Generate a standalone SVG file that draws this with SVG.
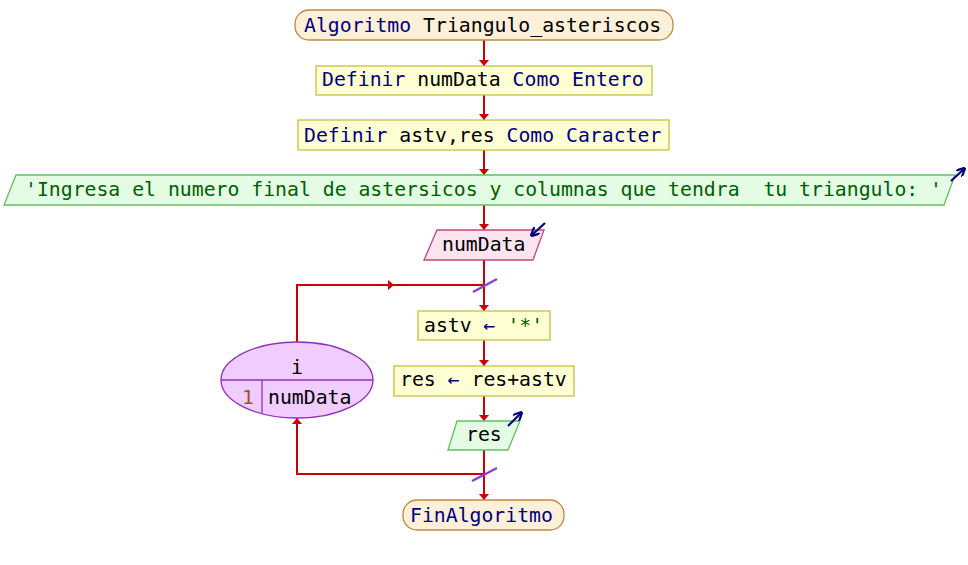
<svg xmlns="http://www.w3.org/2000/svg" width="968" height="565" viewBox="0 0 968 565">
  <defs>
    <marker id="ah" viewBox="0 0 6 10" refX="6" refY="5" markerWidth="6" markerHeight="10" markerUnits="userSpaceOnUse" orient="auto">
      <path d="M0,0 L6,5 L0,10 Z" fill="#cc0000"/>
    </marker>
    <marker id="io" viewBox="0 0 10 10" refX="8" refY="5" markerWidth="9" markerHeight="9" markerUnits="userSpaceOnUse" orient="auto">
      <path d="M0,0 L10,5 L0,10" fill="none" stroke="#000080" stroke-width="2.5"/>
    </marker>
  </defs>
  <style>
    text { font-family: "DejaVu Sans Mono", "Liberation Mono", monospace; font-size: 19.8px; fill: #000000; }
    .kw { fill: #000080; }
    .str { fill: #006000; }
    .num { fill: #a0522d; }
    .term { fill: #fdf0d8; stroke: #c08840; stroke-width: 1.3; }
    .proc { fill: #ffffd4; stroke: #c8c040; stroke-width: 1.3; }
    .out { fill: #e4fce4; stroke: #60c060; stroke-width: 1.3; }
    .inp { fill: #fce4ef; stroke: #c04880; stroke-width: 1.3; }
    .loop { fill: #f0ccff; stroke: #9030c0; stroke-width: 1.3; }
    .flow { fill: none; stroke: #cc0000; stroke-width: 2; }
    .cut { stroke: #9040d0; stroke-width: 2.5; }
    .ioarrow { stroke: #000080; stroke-width: 2.2; marker-end: url(#io); }
  </style>

  <!-- connectors -->
  <g id="connectors">
    <path class="flow" d="M484,40 V66" marker-end="url(#ah)"/>
    <path class="flow" d="M484,95 V120" marker-end="url(#ah)"/>
    <path class="flow" d="M484,150 V175" marker-end="url(#ah)"/>
    <path class="flow" d="M484,205 V230" marker-end="url(#ah)"/>
    <path class="flow" d="M484,260 V311" marker-end="url(#ah)"/>
    <path class="flow" d="M484,340 V366" marker-end="url(#ah)"/>
    <path class="flow" d="M484,396 V421" marker-end="url(#ah)"/>
    <path class="flow" d="M484,450 V500" marker-end="url(#ah)"/>
    <!-- loop return: ellipse top to loop entry -->
    <path class="flow" d="M297,342 V285 H394" marker-end="url(#ah)"/>
    <path class="flow" d="M390,285 H484"/>
    <!-- loop exit back to the counter -->
    <path class="flow" d="M484,474 H297 V418" marker-end="url(#ah)"/>
    <line class="cut" x1="473" y1="292" x2="497" y2="279"/>
    <line class="cut" x1="472" y1="481" x2="497" y2="468"/>
  </g>

  <g id="start">
    <rect class="term" x="295" y="10" width="378" height="30" rx="14"/>
    <text x="304" y="32"><tspan class="kw">Algoritmo</tspan> Triangulo_asteriscos</text>
  </g>

  <g id="def-numData">
    <rect class="proc" x="316" y="66" width="336" height="29"/>
    <text x="322" y="86"><tspan class="kw">Definir</tspan> numData <tspan class="kw">Como Entero</tspan></text>
  </g>

  <g id="def-astv-res">
    <rect class="proc" x="298" y="120" width="371" height="30"/>
    <text x="304" y="142"><tspan class="kw">Definir</tspan> astv,res <tspan class="kw">Como Caracter</tspan></text>
  </g>

  <g id="prompt">
    <polygon class="out" points="16,175 955,175 944,205 4,205"/>
    <text x="25" y="196" class="str" xml:space="preserve">'Ingresa el numero final de astersicos y columnas que tendra  tu triangulo: '</text>
    <line class="ioarrow" x1="951" y1="181" x2="964" y2="169"/>
  </g>

  <g id="read-numData">
    <polygon class="inp" points="437,230 544,230 533,260 424,260"/>
    <text x="442" y="251">numData</text>
    <line class="ioarrow" x1="545" y1="223" x2="532" y2="235"/>
  </g>

  <g id="for-i">
    <ellipse class="loop" cx="297" cy="380" rx="76" ry="38"/>
    <line x1="221" y1="380" x2="373" y2="380" stroke="#9030c0" stroke-width="1.3"/>
    <line x1="262" y1="380" x2="262" y2="414" stroke="#9030c0" stroke-width="1.3"/>
    <text x="297" y="374" text-anchor="middle">i</text>
    <text x="242" y="404" class="num">1</text>
    <text x="268" y="404">numData</text>
  </g>

  <g id="assign-astv">
    <rect class="proc" x="418" y="311" width="132" height="29"/>
    <text x="424" y="332" xml:space="preserve">astv <tspan class="kw">←</tspan> <tspan class="str">'*'</tspan></text>
  </g>

  <g id="assign-res">
    <rect class="proc" x="394" y="366" width="180" height="30"/>
    <text x="400" y="386" xml:space="preserve">res <tspan class="kw">←</tspan> res+astv</text>
  </g>

  <g id="write-res">
    <polygon class="out" points="457,421 520,421 508,450 448,450"/>
    <text x="466" y="441">res</text>
    <line class="ioarrow" x1="508" y1="426" x2="521" y2="413"/>
  </g>

  <g id="end">
    <rect class="term" x="403" y="500" width="161" height="30" rx="14"/>
    <text x="410" y="522" class="kw">FinAlgoritmo</text>
  </g>
</svg>
